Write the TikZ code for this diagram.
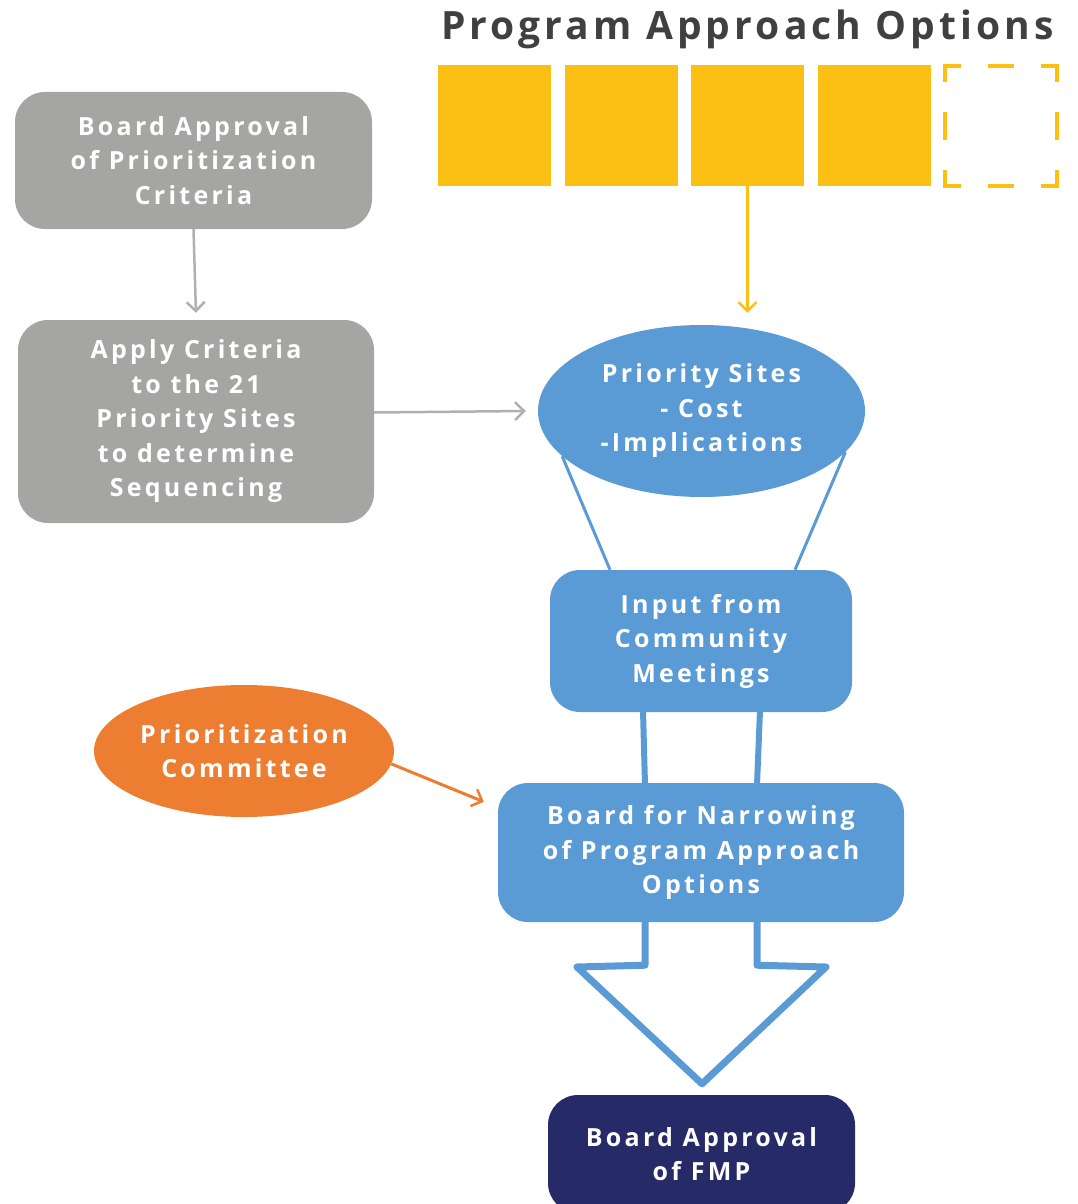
\documentclass[tikz,border=0pt]{standalone}
\usepackage{fontspec}
\setmainfont{Open Sans}[LetterSpace=13]
\usetikzlibrary{arrows.meta,calc,shapes.geometric}
\definecolor{cgray}{HTML}{A5A5A4}
\definecolor{cyel}{HTML}{FBC013}
\definecolor{cblue}{HTML}{5B9BD5}
\definecolor{corange}{HTML}{ED7D31}
\definecolor{cnavy}{HTML}{262A66}
\definecolor{ctitle}{HTML}{404040}
\definecolor{carrowgray}{HTML}{B0B0B0}
\tikzset{
  txt/.style={text=white,font=\fontsize{25}{34.5}\selectfont\bfseries,align=center,inner sep=0},
  rbox/.style={txt,rectangle,rounded corners=30,fill=#1},
  ybox/.style={rectangle,fill=cyel,minimum width=113,minimum height=121,inner sep=0},
  barb/.style={-{Straight Barb[length=9,width=18,line width=2.5]}},
}
\begin{document}
\begin{tikzpicture}[x=1pt,y=-1pt]
\useasboundingbox (0,0) rectangle (1078,1204);
\clip (0,0) rectangle (1078,1204);
% title
\node[anchor=base,text=ctitle,font=\fontsize{39}{40}\selectfont\bfseries\addfontfeatures{LetterSpace=10.5},inner sep=0] (title) at (747.5,40) {Program Approach Options};
% yellow boxes
\node[ybox] (y1) at (494.5,125.5) {};
\node[ybox] (y2) at (621.5,125.5) {};
\node[ybox] (y3) at (747.5,125.5) {};
\node[ybox] (y4) at (874.5,125.5) {};
\begin{scope}[draw=cyel,line width=4]
\draw (945,82) -- (945,66) -- (961,66);
\draw (988,66) -- (1014,66);
\draw (1041,66) -- (1057,66) -- (1057,82);
\draw (1057,112) -- (1057,140);
\draw (1057,170) -- (1057,186) -- (1041,186);
\draw (1014,186) -- (988,186);
\draw (961,186) -- (945,186) -- (945,170);
\draw (945,140) -- (945,112);
\end{scope}
% gray boxes
\node[rbox=cgray,minimum width=357,minimum height=137] (b1) at (193.5,160.5) {Board Approval\\of Prioritization\\Criteria};
\node[rbox=cgray,minimum width=356,minimum height=203] (b2) at (196,421.5) {Apply Criteria\\to the 21\\Priority Sites\\to determine\\Sequencing};
% blue ellipse
\node[txt,ellipse,fill=cblue,minimum width=327,minimum height=172] (ell) at (701.5,411) {Priority Sites\\- Cost\\-Implications};
% blue boxes
\node[rbox=cblue,minimum width=302,minimum height=142] (b3) at (701,641) {Input from\\Community\\Meetings};
\node[rbox=cblue,minimum width=406,minimum height=139] (b4) at (701,852.5) {Board for Narrowing\\of Program Approach\\Options};
% orange ellipse
\node[txt,ellipse,fill=corange,minimum width=300,minimum height=132] (or) at (244,751) {Prioritization\\Committee};
% navy box
\node[rbox=cnavy,minimum width=307,minimum height=118] (b5) at (701.5,1154) {Board Approval\\of FMP};
% arrows
\draw[barb,carrowgray,line width=2.5,shorten >=1] (b1.south) -- ($(b2.north)+(0,-6)$);
\draw[barb,carrowgray,line width=2.5] ($(b2.east)+(0,-9)$) -- ($(ell.west)+(-12,0)$);
\draw[barb,cyel,line width=2.5] (y3.south) -- ($(y3.south |- ell.north)+(0,-12)$);
\draw[barb,corange,line width=3] (or.-5) -- ($(b4.north west)+(-14,19)$);
% funnel lines
\draw[cblue,line width=3] (ell.198) -- ($(b3.north)+(-91,0)$);
\draw[cblue,line width=3] (ell.344) -- ($(b3.north)+(94,0)$);
% connectors b3 -> b4
\draw[cblue,line width=6] ($(b3.south)+(-58,-2)$) -- ($(b4.north)+(-56,2)$);
\draw[cblue,line width=6] ($(b3.south)+(59,-2)$) -- ($(b4.north)+(56,2)$);
% big hollow arrow
\draw[cblue,line width=7,line join=round] ($(b4.south)+(-56,-2)$) -- ++(0,45) -- (577,967) -- ($(b5.north)+(0.5,-11)$) -- (826,967) -- ($(b4.south)+(56,43)$) -- ($(b4.south)+(56,-2)$);
\end{tikzpicture}
\end{document}
